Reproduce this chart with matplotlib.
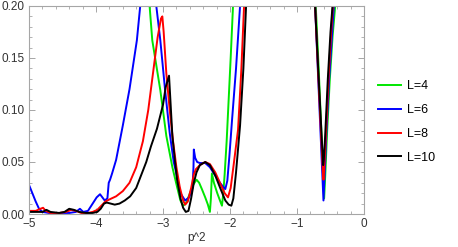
import matplotlib
matplotlib.use("Agg")
import matplotlib.pyplot as plt
from matplotlib.ticker import MultipleLocator, FormatStrFormatter

plt.rcParams['font.family'] = ['Liberation Sans', 'DejaVu Sans']

labels = ["L=4", "L=6", "L=8", "L=10"]
colors = ["#00e600", "#0000ff", "#ff0000", "#000000"]

# L=4
p_L4 = [-3.30, -3.20, -3.16, -3.04, -2.95, -2.86, -2.79, -2.74, -2.70, -2.66, -2.61,
        -2.55, -2.50, -2.46, -2.42, -2.37, -2.33, -2.30, -2.285, -2.27, -2.24, -2.19,
        -2.15, -2.12, -2.10, -2.08, -2.05, -2.02, -1.99, -1.955, -1.92,
        -0.76, -0.72, -0.68, -0.64, -0.61, -0.595, -0.58, -0.55, -0.51, -0.47, -0.43, -0.40]
v_L4 = [0.26, 0.20, 0.167, 0.119, 0.075, 0.045, 0.026, 0.013, 0.008, 0.010, 0.018,
        0.028, 0.033, 0.030, 0.024, 0.016, 0.009, 0.002, 0.015, 0.039, 0.030, 0.020,
        0.013, 0.008, 0.020, 0.038, 0.070, 0.110, 0.150, 0.200, 0.250,
        0.25, 0.20, 0.145, 0.085, 0.035, 0.015, 0.035, 0.080, 0.130, 0.170, 0.200, 0.24]

# L=6
p_L6 = [-5.00, -4.95, -4.90, -4.85, -4.80, -4.70, -4.55, -4.40, -4.30, -4.24, -4.19,
        -4.12, -4.05, -3.99, -3.94, -3.87, -3.83, -3.81, -3.79, -3.76, -3.70, -3.60,
        -3.50, -3.39, -3.34, -3.25, -3.15, -3.10, -3.04, -2.97, -2.90, -2.84, -2.79,
        -2.74, -2.67, -2.61, -2.56, -2.545, -2.54, -2.52, -2.49, -2.45, -2.37, -2.30,
        -2.25, -2.15, -2.10, -2.07, -2.04, -2.01, -1.97, -1.91, -1.85, -1.80,
        -0.76, -0.73, -0.69, -0.65, -0.62, -0.605, -0.59, -0.56, -0.52, -0.48, -0.45, -0.42]
v_L6 = [0.028, 0.020, 0.012, 0.005, 0.002, 0.001, 0.001, 0.001, 0.002, 0.005, 0.002,
        0.003, 0.010, 0.016, 0.019, 0.013, 0.015, 0.030, 0.033, 0.039, 0.052, 0.085,
        0.120, 0.167, 0.200, 0.240, 0.240, 0.200, 0.167, 0.120, 0.078, 0.050, 0.036,
        0.020, 0.013, 0.016, 0.025, 0.045, 0.062, 0.054, 0.050, 0.049, 0.049, 0.045,
        0.040, 0.030, 0.026, 0.024, 0.032, 0.055, 0.090, 0.140, 0.200, 0.250,
        0.25, 0.20, 0.14, 0.08, 0.035, 0.013, 0.035, 0.08, 0.13, 0.17, 0.20, 0.24]

# L=8
p_L8 = [-5.00, -4.90, -4.83, -4.79, -4.75, -4.68, -4.55, -4.45, -4.37, -4.30, -4.22,
        -4.12, -4.05, -3.98, -3.92, -3.86, -3.80, -3.70, -3.60, -3.50, -3.40, -3.30,
        -3.22, -3.15, -3.08, -3.03, -3.01, -2.99, -2.95, -2.90, -2.85, -2.80, -2.75,
        -2.70, -2.67, -2.63, -2.58, -2.54, -2.51, -2.45, -2.37, -2.30, -2.22, -2.15,
        -2.08, -2.03, -1.99, -1.94, -1.88, -1.83, -1.79, -1.74,
        -0.76, -0.73, -0.68, -0.64, -0.615, -0.605, -0.595, -0.57, -0.53, -0.49, -0.465, -0.44]
v_L8 = [0.003, 0.003, 0.005, 0.006, 0.003, 0.001, 0.001, 0.002, 0.004, 0.003, 0.001,
        0.001, 0.002, 0.004, 0.008, 0.012, 0.014, 0.017, 0.022, 0.030, 0.045, 0.070,
        0.100, 0.135, 0.170, 0.188, 0.190, 0.175, 0.135, 0.100, 0.070, 0.045, 0.026,
        0.013, 0.009, 0.012, 0.025, 0.038, 0.043, 0.047, 0.050, 0.048, 0.040, 0.030,
        0.020, 0.016, 0.025, 0.050, 0.081, 0.140, 0.200, 0.250,
        0.25, 0.20, 0.13, 0.075, 0.042, 0.033, 0.042, 0.075, 0.13, 0.175, 0.20, 0.23]

# L=10
p_L10 = [-5.00, -4.90, -4.80, -4.74, -4.68, -4.55, -4.47, -4.40, -4.33, -4.25, -4.15,
         -4.05, -3.98, -3.93, -3.88, -3.84, -3.78, -3.72, -3.65, -3.57, -3.49, -3.40,
         -3.34, -3.25, -3.18, -3.09, -3.00, -2.96, -2.91, -2.89, -2.86, -2.82, -2.79,
         -2.74, -2.70, -2.66, -2.62, -2.58, -2.54, -2.50, -2.45, -2.37, -2.30, -2.22,
         -2.14, -2.07, -2.02, -1.98, -1.95, -1.91, -1.85, -1.80, -1.76, -1.71,
         -0.76, -0.73, -0.68, -0.64, -0.62, -0.61, -0.60, -0.58, -0.54, -0.50, -0.47, -0.44]
v_L10 = [0.002, 0.002, 0.002, 0.004, 0.002, 0.001, 0.002, 0.005, 0.004, 0.002, 0.001,
         0.001, 0.002, 0.005, 0.010, 0.011, 0.010, 0.009, 0.010, 0.013, 0.017, 0.025,
         0.035, 0.050, 0.065, 0.082, 0.105, 0.122, 0.133, 0.110, 0.075, 0.050, 0.033,
         0.015, 0.006, 0.002, 0.003, 0.015, 0.030, 0.040, 0.047, 0.050, 0.047, 0.037,
         0.024, 0.013, 0.009, 0.008, 0.015, 0.040, 0.085, 0.140, 0.200, 0.260,
         0.25, 0.20, 0.135, 0.085, 0.060, 0.047, 0.052, 0.075, 0.13, 0.175, 0.20, 0.24]

series = [(p_L4, v_L4), (p_L6, v_L6), (p_L8, v_L8), (p_L10, v_L10)]

fig = plt.figure(figsize=(4.58, 2.47), dpi=100)
ax = fig.add_axes([29/458, 33/247, 335/458, 208/247])

for (px, vy), c, lab in zip(series, colors, labels):
    ax.plot(px, vy, color=c, lw=1.4, label=lab)

ax.set_xlim(-5, 0)
ax.set_ylim(0, 0.2)
ax.xaxis.set_major_locator(MultipleLocator(1))
ax.xaxis.set_minor_locator(MultipleLocator(0.2))
ax.yaxis.set_major_locator(MultipleLocator(0.05))
ax.yaxis.set_minor_locator(MultipleLocator(0.01))
ax.yaxis.set_major_formatter(FormatStrFormatter("%.2f"))

frame_col = "#a6a6a6"
for s in ax.spines.values():
    s.set_color(frame_col)
    s.set_linewidth(0.8)
ax.tick_params(which="both", direction="in", top=True, right=True,
               color=frame_col, labelcolor="#333333", labelsize=8.5, pad=3)
ax.tick_params(which="major", length=4, width=0.7)
ax.tick_params(which="minor", length=2, width=0.6)

ax.set_xlabel("p^2", fontsize=8.5, color="#333333", labelpad=1.5)

fig.legend(loc="center left", bbox_to_anchor=(378/458, (247-122)/247),
           frameon=False, fontsize=9, handlelength=1.8, handletextpad=0.5,
           labelspacing=0.95, borderpad=0, borderaxespad=0)

fig.savefig("out.png", dpi=100)
